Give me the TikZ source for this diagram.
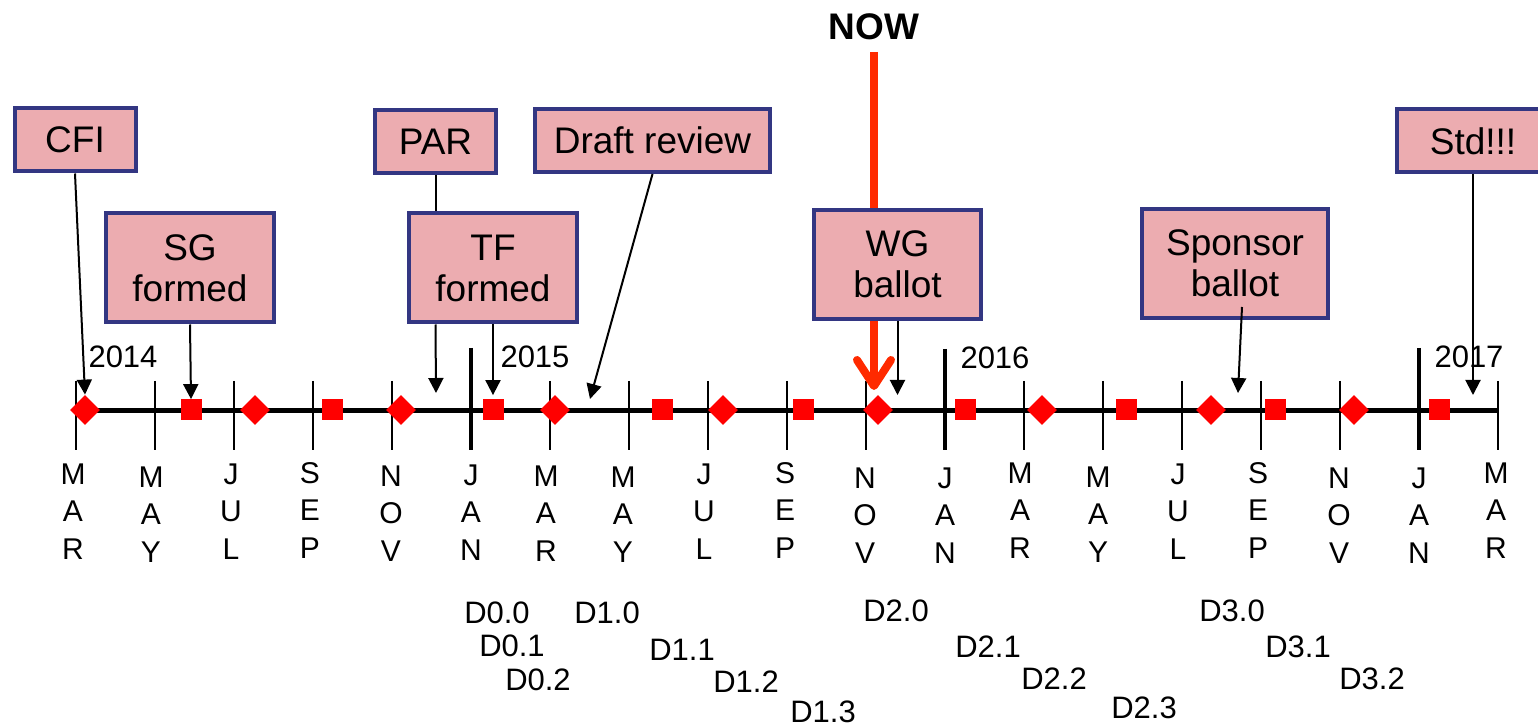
\documentclass[tikz,border=0pt]{standalone}
\usepackage{fontspec}
\setmainfont{Liberation Sans}
\usetikzlibrary{positioning,arrows.meta,shapes.geometric}

\definecolor{boxpink}{HTML}{ECACB0}
\definecolor{boxblue}{HTML}{333682}
\definecolor{nowred}{HTML}{FF2A00}

\tikzset{
  evbox/.style={draw=boxblue, fill=boxpink, line width=2pt, align=center,
    inner sep=0pt, minimum height=31.5pt, font=\fontsize{18.5}{20.5}\selectfont},
  twoline/.style={minimum height=54.5pt},
  pointer/.style={line width=1pt, -{Triangle[length=7.5pt,width=7.5pt]}},
  diam/.style={shape=diamond, fill=red, inner sep=0pt, minimum width=15pt, minimum height=15pt},
  sqr/.style={fill=red, inner sep=0pt, minimum size=10.5pt},
  mon/.style={anchor=north, inner sep=0pt, align=center, font=\fontsize{15}{18.75}\selectfont},
  yr/.style={inner sep=0pt, font=\fontsize{15.5}{18}\selectfont},
  drft/.style={inner sep=0pt, font=\fontsize{15.5}{18}\selectfont},
}

\begin{document}
\begin{tikzpicture}[x=0.5pt,y=-0.5pt]
          \useasboundingbox (0,0) rectangle (1538,727);
          \clip (0,0) rectangle (1538,727);

          % month ticks
          \draw[line width=1pt] (76,381) -- (76,450);
          \draw[line width=1pt] (155,381) -- (155,450);
          \draw[line width=1pt] (234,381) -- (234,450);
          \draw[line width=1pt] (313,381) -- (313,450);
          \draw[line width=1pt] (392,381) -- (392,450);
          \draw[line width=2pt] (471,348) -- (471,450);
          \draw[line width=1pt] (550,381) -- (550,450);
          \draw[line width=1pt] (629,381) -- (629,450);
          \draw[line width=1pt] (708,381) -- (708,450);
          \draw[line width=1pt] (787,381) -- (787,450);
          \draw[line width=1pt] (866,381) -- (866,450);
          \draw[line width=2pt] (945,349) -- (945,450);
          \draw[line width=1pt] (1024,381) -- (1024,450);
          \draw[line width=1pt] (1103,381) -- (1103,450);
          \draw[line width=1pt] (1182,381) -- (1182,450);
          \draw[line width=1pt] (1261,381) -- (1261,450);
          \draw[line width=1pt] (1340,381) -- (1340,450);
          \draw[line width=2pt] (1419,348) -- (1419,450);
          \draw[line width=1pt] (1498,381) -- (1498,450);

          \draw[line width=2.5pt] (76,411) -- (1498,411);

          % markers
          \draw (85,410) node[diam] (dm1) {};
          \draw (255,410) node[diam] (dm2) {};
          \draw (401,410) node[diam] (dm3) {};
          \draw (555,410) node[diam] (dm4) {};
          \draw (723,410) node[diam] (dm5) {};
          \draw (878,410) node[diam] (dm6) {};
          \draw (1042,410) node[diam] (dm7) {};
          \draw (1211,410) node[diam] (dm8) {};
          \draw (1354,410) node[diam] (dm9) {};

          \draw (191,410) node[sqr] (sq1) {};
          \draw (332,410) node[sqr] (sq2) {};
          \draw (493,410) node[sqr] (sq3) {};
          \draw (662,410) node[sqr] (sq4) {};
          \draw (803,410) node[sqr] (sq5) {};
          \draw (965,410) node[sqr] (sq6) {};
          \draw (1126,410) node[sqr] (sq7) {};
          \draw (1275,410) node[sqr] (sq8) {};
          \draw (1439,410) node[sqr] (sq9) {};

          % years
          \draw (123,357) node[yr] (y2014) {2014};
          \draw (535,357) node[yr] (y2015) {2015};
          \draw (995,358) node[yr] (y2016) {2016};
          \draw (1469,357) node[yr] (y2017) {2017};

          % months
          \draw (73,463) node[mon] (m1) {M\\A\\R};
          \draw (151,466) node[mon] (m2) {M\\A\\Y};
          \draw (231,463) node[mon] (m3) {J\\U\\L};
          \draw (310,462) node[mon] (m4) {S\\E\\P};
          \draw (391,465) node[mon] (m5) {N\\O\\V};
          \draw (471,464) node[mon] (m6) {J\\A\\N};
          \draw (546,465) node[mon] (m7) {M\\A\\R};
          \draw (623,466) node[mon] (m8) {M\\A\\Y};
          \draw (704,463) node[mon] (m9) {J\\U\\L};
          \draw (785,462) node[mon] (m10) {S\\E\\P};
          \draw (865,467) node[mon] (m11) {N\\O\\V};
          \draw (945,467) node[mon] (m12) {J\\A\\N};
          \draw (1020,462) node[mon] (m13) {M\\A\\R};
          \draw (1098,466) node[mon] (m14) {M\\A\\Y};
          \draw (1178,463) node[mon] (m15) {J\\U\\L};
          \draw (1258,462) node[mon] (m16) {S\\E\\P};
          \draw (1339,467) node[mon] (m17) {N\\O\\V};
          \draw (1419,467) node[mon] (m18) {J\\A\\N};
          \draw (1496,462) node[mon] (m19) {M\\A\\R};

          % drafts
          \draw (497,613) node[drft] (d00) {D0.0};
          \draw (512,646) node[drft] (d01) {D0.1};
          \draw (538,680) node[drft] (d02) {D0.2};
          \draw (607,613) node[drft] (d10) {D1.0};
          \draw (682,650) node[drft] (d11) {D1.1};
          \draw (746,682) node[drft] (d12) {D1.2};
          \draw (823,712) node[drft] (d13) {D1.3};
          \draw (896,611) node[drft] (d20) {D2.0};
          \draw (988,647) node[drft] (d21) {D2.1};
          \draw (1054,679) node[drft] (d22) {D2.2};
          \draw (1144,708) node[drft] (d23) {D2.3};
          \draw (1232,611) node[drft] (d30) {D3.0};
          \draw (1298,647) node[drft] (d31) {D3.1};
          \draw (1372,679) node[drft] (d32) {D3.2};

          % events
          \draw (75,140) node[evbox, minimum width=60.5pt] (cfi) {CFI};
          \draw (190,268) node[evbox, twoline, minimum width=84pt] (sg) {SG\\formed};
          \draw (435.5,141.5) node[evbox, minimum width=60.5pt] (par) {PAR};
          \draw (493,268) node[evbox, twoline, minimum width=84pt] (tf) {TF\\formed};
          \draw (652.5,140.5) node[evbox, minimum width=117.5pt] (draft) {Draft review};
          \draw (897.5,264.5) node[evbox, twoline, minimum width=83.5pt] (wg) {WG\\ballot};
          \draw (1235,263.5) node[evbox, twoline, minimum width=93pt] (sponsor) {Sponsor\\ballot};
          \draw (1473,141) node[evbox, minimum width=76pt] (std) {Std!!!};

          \draw (874,27) node[inner sep=0pt, font=\bfseries\fontsize{18.5}{20}\selectfont] (nowlbl) {NOW};

          \coordinate (nowtop) at (874,52);
          \coordinate (nowend) at (874,390);
          \coordinate (parend) at (436,393);
          \coordinate (draftend) at (590,399);
          \coordinate (wgend) at (897.5,395);
          \coordinate (spend) at (1238,393);
          \coordinate (stdend) at (1473,395);

          \draw[pointer] (cfi.south) to (dm1.north);
          \draw[pointer] (sg.south) to (sq1.north);
          \draw[line width=1pt] (par.south) to (par.south |- tf.north);
          \draw[pointer] (par.south |- tf.south) to (parend);
          \draw[pointer, shorten >=2pt] (tf.south) to (sq3.north);
          \draw[pointer] (draft.south) to (draftend);
          \draw[pointer] (wg.south) to (wgend);
          \draw[pointer] ([shift={(7,-13)}]sponsor.south) to (spend);
          \draw[pointer] (std.south) to (stdend);

          \draw[nowred, line width=4pt] (nowtop) to (nowtop |- wg.north);
          \draw[nowred, line width=4pt, -{Straight Barb[length=13pt,width=17pt,line cap=round,line join=round]}]
          (nowtop |- wg.south) to (nowend);
        \end{tikzpicture}
\end{document}
